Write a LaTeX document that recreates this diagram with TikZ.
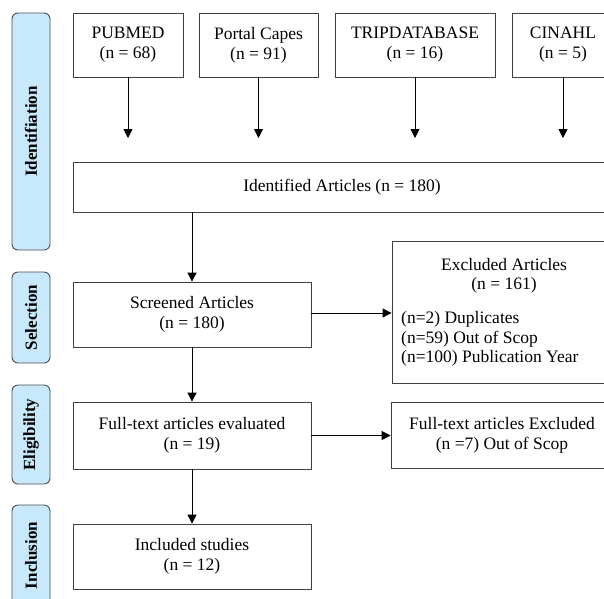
\documentclass[tikz,border=0pt]{standalone}
\usepackage{fontspec}
\setmainfont{Liberation Serif}
\usetikzlibrary{arrows.meta}
\definecolor{phaseblue}{HTML}{C8E9FB}
\tikzset{
  box/.style={draw=black!75, line width=0.8pt, fill=white, align=center,
    inner sep=0pt, font=\fontsize{17.5}{20}\selectfont},
  phase/.style={draw=black!70, line width=0.9pt, fill=phaseblue,
    rounded corners=6pt, minimum width=38pt, inner sep=0pt,
    font=\fontsize{17}{20}\selectfont\bfseries},
  txt/.style={inner sep=0pt, font=\fontsize{17.5}{19.5}\selectfont},
  arr/.style={draw=black, line width=0.8pt, -{Triangle[length=9pt,width=9pt]}}
}
\begin{document}
\begin{tikzpicture}[x=1pt, y=-1pt]
                \useasboundingbox (0, 0) rectangle (604, 598);
                \clip (0, 0) rectangle (604, 598);
                % phase labels on the left
                \node [phase, minimum height=237pt] (idph) at (31, 131.5)
                    {\rotatebox{90}{Identifiation}};
                \node [phase, minimum height=91pt] (selph) at (31, 317.5)
                    {\rotatebox{90}{Selection}};
                \node [phase, minimum height=99pt] (eliph) at (31, 434.5)
                    {\rotatebox{90}{Eligibility}};
                \node [phase, minimum height=101pt] (incph) at (31, 555.5)
                    {\rotatebox{90}{Inclusion}};
                % databases
                \node [box, minimum width=110pt, minimum height=64pt] (pubmed) at (128, 45)
                    {PUBMED\\(n = 68)};
                \node [box, minimum width=119pt, minimum height=64pt] (capes) at (258.5, 45)
                    {Portal Capes\\(n = 91)};
                \node [box, minimum width=160pt, minimum height=64pt] (trip) at (415, 45)
                    {TRIPDATABASE\\(n = 16)};
                \node [box, minimum width=102pt, minimum height=64pt] (cinahl) at (563, 45)
                    {CINAHL\\(n = 5)};
                \coordinate (tips) at (0, 138);
                \draw [arr] (pubmed) -- (pubmed |- tips);
                \draw [arr] (capes) -- (capes |- tips);
                \draw [arr] (trip) -- (trip |- tips);
                \draw [arr] (cinahl) -- (cinahl |- tips);
                % main column
                \node [box, minimum width=538pt, minimum height=50pt] (ident) at (342, 187)
                    {Identified Articles (n = 180)};
                \node [box, minimum width=238pt, minimum height=65pt] (screened) at (192, 314.5)
                    {Screened Articles\\(n = 180)};
                \node [box, minimum width=238pt, minimum height=67pt] (fulltext) at (192, 435.5)
                    {Full-text articles evaluated\\(n = 19)};
                \node [box, minimum width=238pt, minimum height=65pt] (included) at (192, 556.5)
                    {Included studies\\(n = 12)};
                \draw [arr] (screened |- ident.south) -- (screened.north);
                \draw [arr] (screened) -- (fulltext);
                \draw [arr] (fulltext) -- (included);
                % exclusions
                \node [box, minimum width=224pt, minimum height=142pt] (excluded) at (504, 312) {};
                \node [txt, align=center] (exclhead) at (504, 276)
                    {Excluded Articles\\(n = 161)};
                \node [txt, align=left, anchor=west] (excllist) at (401, 339)
                    {(n=2) Duplicates\\(n=59) Out of Scop\\(n=100) Publication Year};
                \node [box, minimum width=222pt, minimum height=66pt] (ftexcl) at (502, 435)
                    {Full-text articles Excluded\\(n =7) Out of Scop};
                \draw [arr] (screened.east |- 0, 313) -- (excluded.west |- 0, 313);
                \draw [arr] (fulltext.east) -- (fulltext.east -| ftexcl.west);
            \end{tikzpicture}
\end{document}
